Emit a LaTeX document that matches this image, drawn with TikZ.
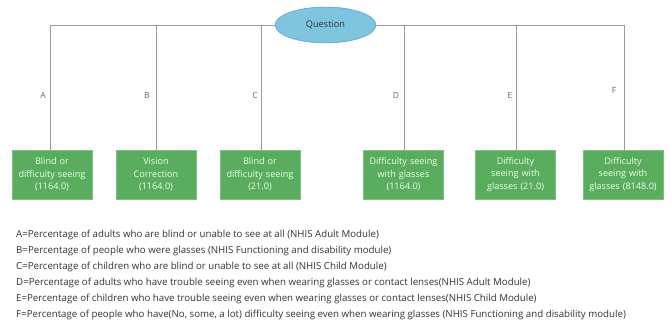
\documentclass[tikz,border=0pt]{standalone}
\usepackage{fontspec}
\setmainfont{Open Sans}
\usetikzlibrary{shapes.geometric}
\definecolor{boxgreen}{HTML}{5AAD5F}
\definecolor{boxedge}{HTML}{7CC07F}
\definecolor{ellfill}{HTML}{7FC4DE}
\definecolor{elledge}{HTML}{3D9BC2}
\definecolor{linegray}{HTML}{9A9A9A}
\definecolor{txtgray}{HTML}{333333}
\tikzset{
  x=1pt,y=-1pt,
  leaf/.style={draw=boxedge,fill=boxgreen,minimum width=80pt,minimum height=49pt,inner sep=0pt,
    text=white!92!green,font=\fontsize{9.1}{12.7}\selectfont,align=center,text width=80pt},
  conn/.style={draw=linegray,line width=0.7pt},
  lbl/.style={font=\fontsize{8.5}{9}\selectfont,text=black!60,inner sep=0pt},
  legend/.style={font=\fontsize{9.7}{10}\selectfont,text=txtgray,anchor=west,inner sep=0pt}
}
\begin{document}
\begin{tikzpicture}
\useasboundingbox (0,0) rectangle (670,320);
% top bar
\coordinate (tl) at (50,25);
\coordinate (tr) at (624,25);
\draw[conn] (tl) -- (tr);
\node[ellipse,draw=elledge,fill=ellfill,minimum width=101pt,minimum height=36pt,inner sep=0pt,
  font=\fontsize{9.2}{10}\selectfont,text=black!80] (q) at (325.5,25) {Question};
% leaves
\node[leaf] (a) at (52,174.5) {Blind or\\difficulty seeing\\(1164.0)};
\node[leaf] (b) at (156,174.5) {Vision\\Correction\\(1164.0)};
\node[leaf] (c) at (260,174.5) {Blind or\\difficulty seeing\\(21.0)};
\node[leaf] (d) at (403.5,174.5) {Difficulty seeing\\with glasses\\(1164.0)};
\node[leaf] (e) at (515.5,174.5) {Difficulty\\seeing with\\glasses (21.0)};
\node[leaf] (f) at (623,174.5) {Difficulty\\seeing with\\glasses (8148.0)};
% branch coordinates
\coordinate (ta) at (50,25);
\coordinate (tb) at (156,25);
\coordinate (tc) at (261,25);
\coordinate (td) at (404,25);
\coordinate (te) at (516,25);
\coordinate (tf) at (624,25);
\draw[conn] (ta) -- (ta |- a.north);
\draw[conn] (tb) -- (tb |- b.north);
\draw[conn] (tc) -- (tc |- c.north);
\draw[conn] (td) -- (td |- d.north);
\draw[conn] (te) -- (te |- e.north);
\draw[conn] (tf) -- (tf |- f.north);
% branch labels
\node[lbl] (la) at (43,95) {A};
\node[lbl] (lb) at (147,95) {B};
\node[lbl] (lc) at (255,95) {C};
\node[lbl] (ld) at (396,95) {D};
\node[lbl] (le) at (510,95) {E};
\node[lbl] (lf) at (614,90) {F};
% legend
\node[legend] (g1) at (16,234.5) {A=Percentage of adults who are blind or unable to see at all (NHIS Adult Module)};
\node[legend] (g2) at (16,250.5) {B=Percentage of people who were glasses (NHIS Functioning and disability module)};
\node[legend] (g3) at (16,266.5) {C=Percentage of children who are blind or unable to see at all (NHIS Child Module)};
\node[legend] (g4) at (16,282.5) {D=Percentage of adults who have trouble seeing even when wearing glasses or contact lenses(NHIS Adult Module)};
\node[legend] (g5) at (16,298.5) {E=Percentage of children who have trouble seeing even when wearing glasses or contact lenses(NHIS Child Module)};
\node[legend] (g6) at (16,314.5) {F=Percentage of people who have(No, some, a lot) difficulty seeing even when wearing glasses (NHIS Functioning and disability module)};
\end{tikzpicture}
\end{document}
